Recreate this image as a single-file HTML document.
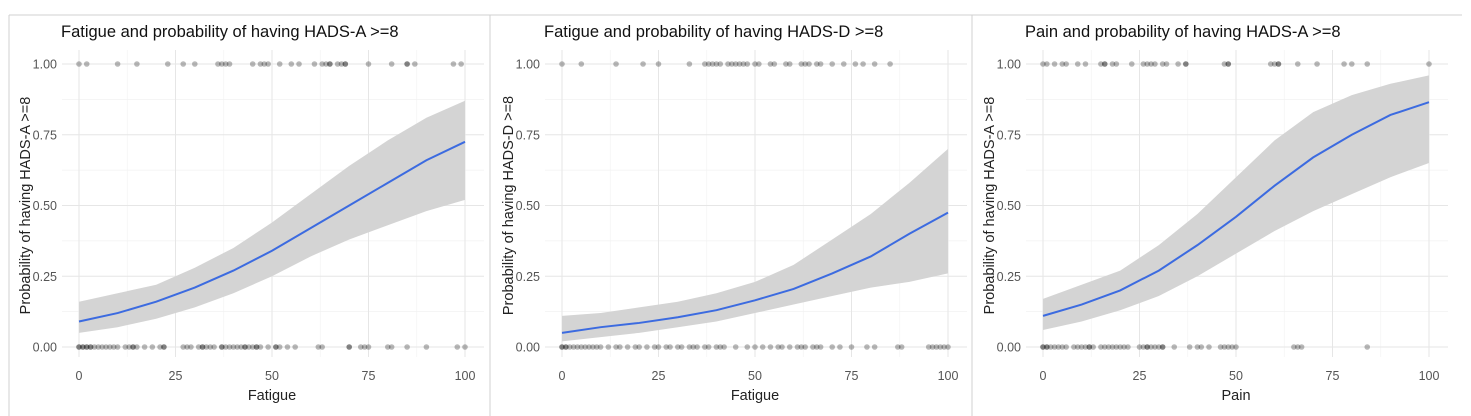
<!DOCTYPE html>
<html><head><meta charset="utf-8"><style>
html,body{margin:0;padding:0;background:#fff;}
svg{display:block;font-family:"Liberation Sans",sans-serif;}
</style></head><body>
<svg id="chart" width="1471" height="416" viewBox="0 0 1471 416">
<line x1="9" y1="15" x2="1462" y2="15" stroke="#d0d0d0"/>
<line x1="9" y1="15" x2="9" y2="416" stroke="#d0d0d0"/>
<line x1="490" y1="15" x2="490" y2="416" stroke="#d0d0d0"/>
<line x1="972" y1="15" x2="972" y2="416" stroke="#d0d0d0"/>
</svg>
<script>
const xTicks=[0,25,50,75,100];
const yTicks=[0,0.25,0.5,0.75,1];
const yTickLabels=["0.00","0.25","0.50","0.75","1.00"];
const fitX=[0,10,20,30,40,50,60,70,80,90,100];
const titles=["Fatigue and probability of having HADS-A >=8","Fatigue and probability of having HADS-D >=8","Pain and probability of having HADS-A >=8"];
const xLabels=["Fatigue","Fatigue","Pain"];
const yLabels=["Probability of having HADS-A >=8","Probability of having HADS-D >=8","Probability of having HADS-A >=8"];
const fit1=[.09,.12,.16,.21,.27,.34,.42,.50,.58,.66,.725];
const lo1=[.05,.07,.10,.14,.19,.25,.32,.38,.43,.48,.52];
const hi1=[.16,.19,.22,.28,.35,.44,.54,.64,.73,.81,.87];
const fit2=[.05,.07,.085,.105,.13,.165,.205,.26,.32,.40,.475];
const lo2=[.02,.035,.05,.07,.09,.12,.15,.18,.21,.23,.26];
const hi2=[.11,.12,.14,.16,.19,.23,.29,.38,.47,.58,.70];
const fit3=[.11,.15,.20,.27,.36,.46,.57,.67,.75,.82,.865];
const lo3=[.06,.09,.13,.18,.25,.33,.41,.48,.54,.60,.65];
const hi3=[.17,.22,.27,.36,.47,.60,.73,.83,.89,.93,.96];
const ones1=[0,2,10,15,23,27,30,36,37,38,39,45,47,48,49,52,55,57,61,63,64,65,65,67,68,69,69,75,81,85,85,87,97,99];
const zeros1=[0,0,1,1,2,2,3,3,4,5,6,7,8,9,10,12,13,14,14,15,17,19,21,22,22,27,28,29,31,32,32,33,34,35,37,37,38,39,40,41,42,43,43,44,45,46,46,47,49,51,51,52,54,56,62,63,70,70,73,74,75,80,81,85,90,98,100];
const ones2=[0,5,14,21,25,33,37,38,39,40,41,43,44,45,46,47,48,50,51,54,55,58,59,62,63,64,66,67,70,73,76,78,81,85];
const zeros2=[0,0,1,1,2,3,4,5,6,7,8,9,10,12,14,15,17,19,20,22,24,25,27,28,30,31,33,34,35,37,38,40,41,42,45,48,50,52,54,56,57,59,61,62,63,65,66,67,70,72,75,79,81,87,88,95,96,97,98,99,100];
const ones3=[0,1,3,5,6,9,11,15,16,16,18,19,23,26,27,28,29,31,32,35,37,37,47,48,48,59,60,61,61,66,71,78,80,84,100];
const zeros3=[0,0,1,1,2,3,4,5,6,8,9,10,11,12,12,13,15,16,17,18,19,20,21,22,25,26,27,27,28,29,30,31,31,34,38,40,41,43,46,47,48,49,50,65,66,67,84];
const fits=[fit1,fit2,fit3], los=[lo1,lo2,lo3], his=[hi1,hi2,hi3];
const onesAll=[ones1,ones2,ones3], zerosAll=[zeros1,zeros2,zeros3];
const offsets=[0,483,964];
const svg=document.getElementById('chart');
const NS='http://www.w3.org/2000/svg';
function mk(tag,attrs,parent){const e=document.createElementNS(NS,tag);for(const k in attrs)e.setAttribute(k,attrs[k]);(parent||svg).appendChild(e);return e;}
for(let p=0;p<3;p++){
  const o=offsets[p];
  const X=v=>o+79+v*3.86;
  const Y=v=>347-v*283;
  const g=mk('g',{});
  
  
  for(let v=0.125;v<1;v+=0.25){const l=mk('line',{x1:o+62,x2:o+484,y1:Y(v),y2:Y(v),stroke:'#f2f2f2','stroke-width':0.7},g);}
  for(let v=12.5;v<=100;v+=25){const l=mk('line',{x1:X(v),x2:X(v),y1:50,y2:357,stroke:'#f2f2f2','stroke-width':0.7},g);}
  yTicks.forEach((v,i)=>{
    const l=mk('line',{x1:o+62,x2:o+484,y1:Y(v),y2:Y(v),stroke:'#e6e6e6','stroke-width':1},g);
    
    const t=mk('text',{x:o+57,y:Y(v)+4.5,'text-anchor':'end','font-size':12.5,fill:'#555'},g);
    t.textContent=yTickLabels[i];
    
  });
  xTicks.forEach(v=>{
    const l=mk('line',{x1:X(v),x2:X(v),y1:50,y2:357,stroke:'#e6e6e6','stroke-width':1},g);
    
    const t=mk('text',{x:X(v),y:380,'text-anchor':'middle','font-size':12.5,fill:'#555'},g);
    t.textContent=String(v);
    
  });
  let d='M'+fitX.map((x,i)=>X(x)+','+Y(his[p][i])).join('L');
  d+='L'+fitX.slice().reverse().map((x,j)=>{const i=fitX.length-1-j;return X(x)+','+Y(los[p][i]);}).join('L')+'Z';
  const rb=mk('path',{d:d,fill:'#d4d4d4'},g);
  
  const ln=mk('polyline',{points:fitX.map((x,i)=>X(x)+','+Y(fits[p][i])).join(' '),fill:'none',stroke:'#3c6be0','stroke-width':2},g);
  
  onesAll[p].forEach(v=>{const c=mk('circle',{cx:X(v),cy:Y(1),r:2.8,fill:'#000','fill-opacity':0.28},g);});
  zerosAll[p].forEach(v=>{const c=mk('circle',{cx:X(v),cy:Y(0),r:2.8,fill:'#000','fill-opacity':0.28},g);});
  const tt=mk('text',{x:o+61,y:37,'font-size':16.5,fill:'#111'},g);
  tt.textContent=titles[p];
  
  const xl=mk('text',{x:X(50),y:400,'text-anchor':'middle','font-size':14.5,fill:'#222'},g);
  xl.textContent=xLabels[p];
  
  const yl=mk('text',{x:0,y:0,'text-anchor':'middle','font-size':14.5,fill:'#222',transform:'translate('+(o+30)+','+Y(0.5)+') rotate(-90)'},g);
  yl.textContent=yLabels[p];
  
}
</script>
</body></html>
